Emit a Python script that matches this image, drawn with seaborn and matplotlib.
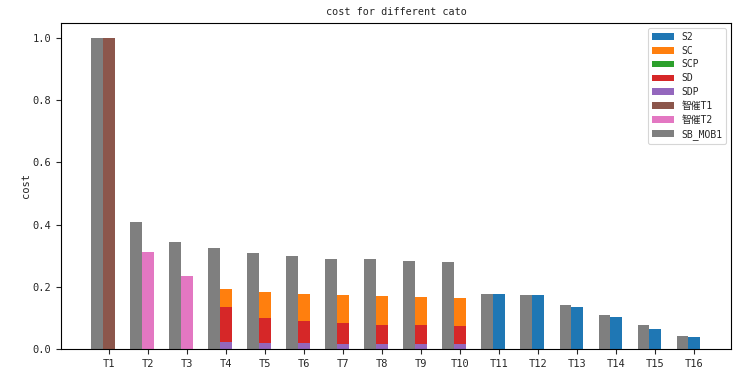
import numpy as np
import matplotlib
matplotlib.use("Agg")
import matplotlib.pyplot as plt
import seaborn as sns

# ==========================================
# DATA
# ==========================================

tasks = ["T%d" % i for i in range(1, 17)]

sb_mob1 = [1.0, 0.408, 0.344, 0.325, 0.309, 0.299, 0.289, 0.289,
           0.283, 0.280, 0.177, 0.174, 0.141, 0.109, 0.077, 0.042]

zhicui_t1 = [1.0] + [0] * 15
zhicui_t2 = [0, 0.312, 0.235] + [0] * 13

# stacked parts for T4..T10
sdp = [0, 0, 0, 0.022, 0.019, 0.019, 0.016, 0.016, 0.016, 0.016] + [0] * 6
sd = [0, 0, 0, 0.113, 0.081, 0.071, 0.068, 0.061, 0.061, 0.058] + [0] * 6
scp = [0] * 16
sc = [0, 0, 0, 0.058, 0.083, 0.087, 0.090, 0.093, 0.090, 0.090] + [0] * 6

s2 = [0] * 10 + [0.177, 0.174, 0.135, 0.103, 0.064, 0.039]

# ==========================================
# PLOT
# ==========================================

sns.set_style("white")
plt.rcParams["font.family"] = ["DejaVu Sans Mono", "Noto Sans CJK SC"]
plt.rcParams["font.size"] = 7.5

pal = sns.color_palette("tab10")
x = np.arange(len(tasks))
w = 0.3
kw = dict(linewidth=0, edgecolor="none")

fig = plt.figure(figsize=(7.5, 3.76), dpi=100)
ax = fig.add_axes([0.081, 0.072, 0.894, 0.867])

ax.bar(x, s2, w, color=pal[0], label="S2", **kw)
b = np.array(sdp) + np.array(sd) + np.array(scp)
ax.bar(x, sc, w, bottom=b, color=pal[1], label="SC", **kw)
b = np.array(sdp) + np.array(sd)
ax.bar(x, scp, w, bottom=b, color=pal[2], label="SCP", **kw)
ax.bar(x, sd, w, bottom=sdp, color=pal[3], label="SD", **kw)
ax.bar(x, sdp, w, color=pal[4], label="SDP", **kw)
ax.bar(x, zhicui_t1, w, color=pal[5], label="智催T1", **kw)
ax.bar(x, zhicui_t2, w, color=pal[6], label="智催T2", **kw)
ax.bar(x - w, sb_mob1, w, color=pal[7], label="SB_MOB1", **kw)

ax.set_xticks(x)
ax.set_xticklabels(tasks)
ax.set_xlim(-1.23, 15.95)
ax.set_ylim(0, 1.048)
ax.set_yticks(np.arange(0, 1.01, 0.2))
ax.set_ylabel("cost", labelpad=1)
ax.set_title("cost for different cato", fontsize=7.3)
ax.tick_params(axis="both", length=3.5, width=0.8, direction="out",
               bottom=True, left=True)
for s in ax.spines.values():
    s.set_color("black")
    s.set_linewidth(0.8)

leg = ax.legend(loc="upper right", fontsize=7, handlelength=2.2,
                labelspacing=0.4)
leg.get_frame().set_edgecolor("#cccccc")
leg.get_frame().set_linewidth(0.8)

fig.savefig("out.png", dpi=100)
